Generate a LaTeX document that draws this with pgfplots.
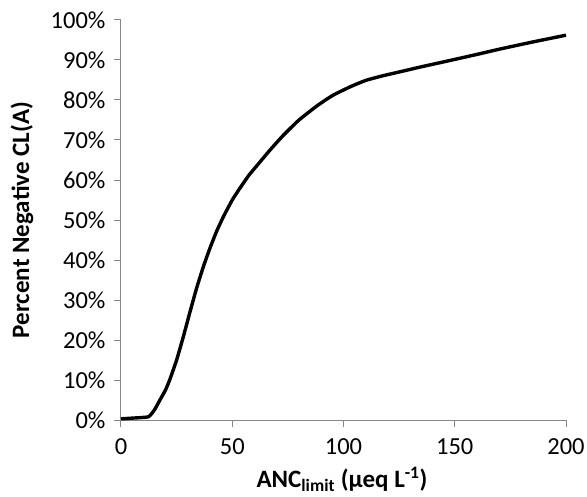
\documentclass[border=0pt]{standalone}
\usepackage{fontspec}
\setmainfont{Carlito}
\usepackage{pgfplots}
\pgfplotsset{compat=1.18}
\begin{document}
\begin{tikzpicture}
\path[use as bounding box] (-121pt,-76pt) rectangle (466pt,420pt);
\begin{axis}[
  at={(0pt,0pt)}, anchor=south west,
  scale only axis, width=445pt, height=400pt,
  xmin=0, xmax=200, ymin=0, ymax=100,
  axis x line*=bottom, axis y line*=left,
  axis line style={draw=black!47, line width=1pt},
  xtick={0,50,100,150,200},
  ytick={0,10,...,100},
  yticklabel={\pgfmathprintnumber{\tick}\%},
  tick align=outside,
  major tick length=7pt,
  tick style={draw=black!47, line width=1pt},
  ticklabel style={font=\fontsize{24.5}{26}\selectfont},
  yticklabel style={xshift=-5pt},
  xticklabel style={yshift=-8pt},
  /pgf/number format/assume math mode=true,
  xlabel={ANC\textsubscript{limit} (µeq L\textsuperscript{-1})},
  ylabel={Percent Negative CL(A)},
  label style={font=\bfseries\fontsize{25}{28}\selectfont},
  xlabel style={at={(axis description cs:0.4966,-0.149)}, anchor=center},
  ylabel style={at={(axis description cs:-0.2225,0.5)}, anchor=center},
  clip=false,
]
\addplot[black, line width=3.4pt, smooth, tension=0.3] table {
x y
0 0.3
6 0.5
12.3 0.8
15 2.5
17.5 5
20 7.5
22 10.2
25 15
28 20.8
31 27
34 33
37 38.3
40 43
43 47.2
46 50.8
50 55
53.5 58
57.5 61.2
62 64.2
67 67.5
73 71.2
80 75
88 78.5
95 81.1
103 83.3
110 84.9
118 86.1
125 87.0
135 88.3
148 89.9
160 91.4
170 92.7
185 94.5
200 96.2
};
\end{axis}
\end{tikzpicture}
\end{document}
